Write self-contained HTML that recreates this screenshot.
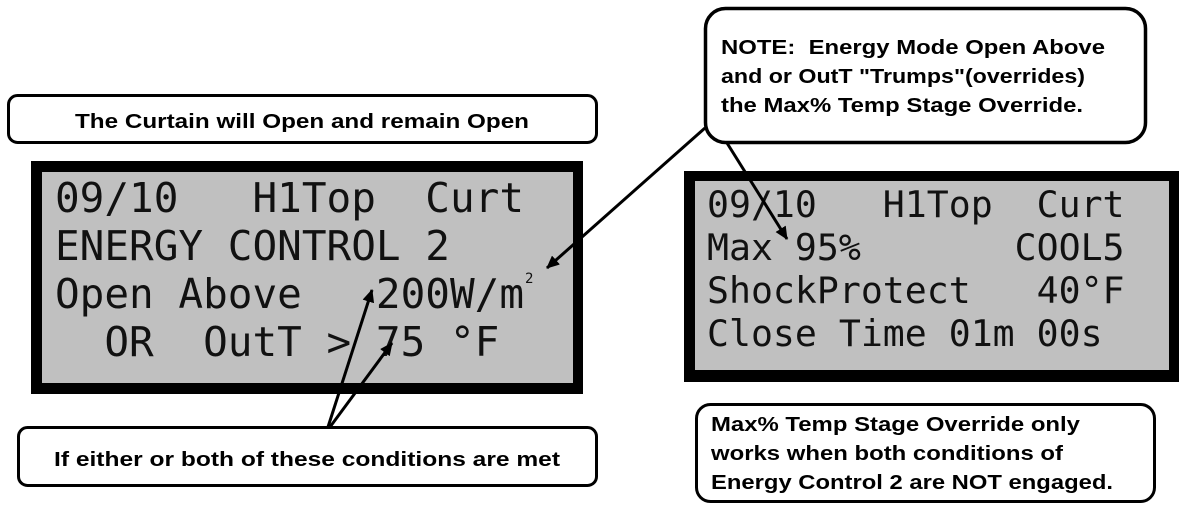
<!DOCTYPE html>
<html><head><meta charset="utf-8"><style>
html,body{margin:0;padding:0;background:#fff;}
svg{display:block;}
.b{font-family:"Liberation Sans",Arial,sans-serif;font-weight:bold;font-size:20.5px;fill:#000;}
.m{font-family:"DejaVu Sans Mono","Liberation Mono",monospace;fill:#111;white-space:pre;}
</style></head><body>
<svg width="1192" height="519" viewBox="0 0 1192 519" xmlns="http://www.w3.org/2000/svg">
<defs>
<marker id="ah" markerWidth="13" markerHeight="12" refX="12" refY="6" orient="auto" markerUnits="userSpaceOnUse" viewBox="0 0 13 12">
<path d="M0,0 L13,6 L0,12 z" fill="#000"/></marker>
</defs>
<!-- top-left box -->
<rect x="8.5" y="95.5" width="588" height="47" rx="9" fill="#fff" stroke="#000" stroke-width="3"/>
<text class="b" x="302" y="128" text-anchor="middle" textLength="454" lengthAdjust="spacingAndGlyphs">The Curtain will Open and remain Open</text>
<!-- left panel -->
<rect x="31" y="161" width="552" height="233" fill="#000"/>
<rect x="42" y="172" width="531" height="211" fill="#c0c0c0"/>
<g class="m" font-size="41">
<text x="55" y="212" xml:space="preserve">09/10   H1Top  Curt</text>
<text x="55" y="260" xml:space="preserve">ENERGY CONTROL 2</text>
<text x="55" y="308" xml:space="preserve">Open Above   200W/m</text>
<text x="55" y="356" xml:space="preserve">  OR  OutT > 75 °F</text>
</g>
<text class="m" x="525" y="283" font-size="14">2</text>
<!-- right panel -->
<rect x="684" y="171" width="495" height="211" fill="#000"/>
<rect x="695" y="181" width="474" height="189" fill="#c0c0c0"/>
<g class="m" font-size="36.5">
<text x="707" y="217" xml:space="preserve">09/10   H1Top  Curt</text>
<text x="707" y="260" xml:space="preserve">Max 95%       COOL5</text>
<text x="707" y="303" xml:space="preserve">ShockProtect   40°F</text>
<text x="707" y="346" xml:space="preserve">Close Time 01m 00s</text>
</g>
<!-- note box -->
<rect x="705.5" y="8.5" width="440" height="134" rx="20" fill="#fff" stroke="#000" stroke-width="3.5"/>
<text class="b" x="721" y="54" textLength="384" lengthAdjust="spacingAndGlyphs" xml:space="preserve">NOTE:  Energy Mode Open Above</text>
<text class="b" x="721" y="83" textLength="364" lengthAdjust="spacingAndGlyphs">and or OutT "Trumps"(overrides)</text>
<text class="b" x="721" y="112" textLength="362" lengthAdjust="spacingAndGlyphs">the Max% Temp Stage Override.</text>
<!-- callout lines -->
<line x1="705" y1="128" x2="547" y2="268" stroke="#000" stroke-width="3" marker-end="url(#ah)"/>
<line x1="727" y1="143" x2="787" y2="239" stroke="#000" stroke-width="3" marker-end="url(#ah)"/>
<line x1="328" y1="427" x2="372" y2="290" stroke="#000" stroke-width="3" marker-end="url(#ah)"/>
<line x1="330" y1="427" x2="392" y2="343" stroke="#000" stroke-width="3" marker-end="url(#ah)"/>
<!-- bottom-left box -->
<rect x="18.5" y="427.5" width="578" height="58" rx="9" fill="#fff" stroke="#000" stroke-width="3"/>
<text class="b" x="307" y="466" text-anchor="middle" textLength="506" lengthAdjust="spacingAndGlyphs">If either or both of these conditions are met</text>
<!-- bottom-right box -->
<rect x="696.5" y="404.5" width="458" height="97" rx="14" fill="#fff" stroke="#000" stroke-width="3"/>
<text class="b" x="711" y="431" textLength="369" lengthAdjust="spacingAndGlyphs">Max% Temp Stage Override only</text>
<text class="b" x="711" y="460" textLength="352" lengthAdjust="spacingAndGlyphs">works when both conditions of</text>
<text class="b" x="711" y="489" textLength="402" lengthAdjust="spacingAndGlyphs">Energy Control 2 are NOT engaged.</text>
</svg>
</body></html>
